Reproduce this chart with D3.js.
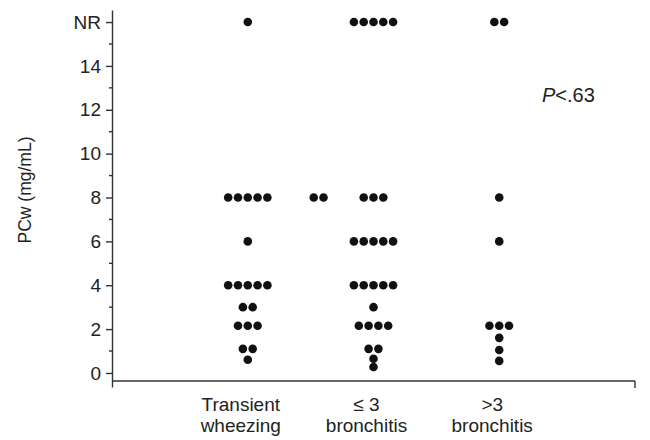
<!DOCTYPE html>
<html>
<head>
<meta charset="utf-8">
<script src="https://cdn.jsdelivr.net/npm/d3@7"></script>
<style>
  body { margin: 0; background: #fff; }
  svg { display: block; font-family: "Liberation Sans", Arial, Helvetica, sans-serif; }
</style>
</head>
<body>
<svg id="chart" width="650" height="440"></svg>
<script>
// ---- data ----
const categories = ["Transient wheezing", "≤ 3 bronchitis", ">3 bronchitis"];
const categoryLines = [["Transient", "wheezing"], ["≤ 3", "bronchitis"], [">3", "bronchitis"]];
const NR = 16; // "no response" plotted at top
const transientValues = [NR, 8, 8, 8, 8, 8, 6, 4, 4, 4, 4, 4, 3, 3, 2.15, 2.15, 2.15, 1.1, 1.1, 0.6];
const lowBronchValues = [NR, NR, NR, NR, NR, 8, 8, 8, 6, 6, 6, 6, 6, 4, 4, 4, 4, 4, 3, 2.15, 2.15, 2.15, 2.15, 1.1, 1.1, 0.65, 0.27];
const lowBronchShifted = [8, 8]; // pair drawn left of the column in the original
const highBronchValues = [NR, NR, 8, 6, 2.15, 2.15, 2.15, 1.6, 1.05, 0.55];
const groupValues = [transientValues, lowBronchValues, highBronchValues];
const yTickValues = [0, 2, 4, 6, 8, 10, 12, 14, NR];
const yMinorTicks = [1, 3, 5, 7, 9, 11, 13, 15];
const pText = "P<.63";

// ---- layout ----
const svg = d3.select("#chart");
const left = 112, right = 635, axisY = 381;
const y = d3.scaleLinear().domain([-0.64, 16.55]).range([387, 10]);
const x = d3.scalePoint().domain(categories).range([left, right]).padding(1.08);
const dotStep = 9.8, dotR = 4.3;

// y axis
const yAxis = d3.axisLeft(y).tickValues(yTickValues).tickSize(6).tickSizeOuter(0)
  .tickFormat(d => d === NR ? "NR" : d);
const gy = svg.append("g").attr("transform", `translate(${left},0)`).call(yAxis);
gy.attr("font-family", null);
gy.select(".domain").attr("stroke", "#333").attr("stroke-width", 1.4);
gy.selectAll(".tick line").attr("stroke", "#333").attr("stroke-width", 1.4);
gy.selectAll(".tick text").attr("font-size", 19).attr("fill", "#222").attr("x", -11);
// minor ticks
gy.selectAll(".minor").data(yMinorTicks).enter().append("line")
  .attr("class", "minor").attr("x1", -3).attr("x2", 0)
  .attr("y1", d => y(d)).attr("y2", d => y(d))
  .attr("stroke", "#333").attr("stroke-width", 1.4);

// x axis line
svg.append("line").attr("x1", left).attr("x2", right).attr("y1", axisY).attr("y2", axisY)
  .attr("stroke", "#333").attr("stroke-width", 1.4);
svg.append("line").attr("x1", right).attr("x2", right).attr("y1", axisY).attr("y2", axisY + 7)
  .attr("stroke", "#333").attr("stroke-width", 1.4);

// category labels (one text per line)
categories.forEach((c, i) => {
  categoryLines[i].forEach((ln, j) => {
    svg.append("text").attr("text-anchor", "middle").attr("font-size", 19).attr("fill", "#222")
      .attr("x", x(c) - 7).attr("y", 411 + j * 21.4).text(ln);
  });
});

// y label
svg.append("text").attr("transform", "translate(31,190) rotate(-90)")
  .attr("text-anchor", "middle").attr("font-size", 17.5).attr("fill", "#222")
  .text("PCw (mg/mL)");

// P value
const pt = svg.append("text").attr("x", 542).attr("y", 102).attr("font-size", 20).attr("fill", "#222");
pt.append("tspan").attr("font-style", "italic").text(pText.slice(0, 1));
pt.append("tspan").text(pText.slice(1));

// dots
function layout(values, cx, shift) {
  const rows = d3.rollups(values, v => v.length, d => d);
  const pts = [];
  rows.forEach(([val, n]) => {
    for (let k = 0; k < n; k++) {
      pts.push({ value: val, cx: cx + (shift + k - (n - 1) / 2) * dotStep });
    }
  });
  return pts;
}
let allPts = [];
categories.forEach((c, i) => { allPts = allPts.concat(layout(groupValues[i], x(c), 0)); });
allPts = allPts.concat(layout(lowBronchShifted, x(categories[1]), -5.6));

svg.append("g").selectAll("circle").data(allPts).enter().append("circle")
  .attr("cx", d => d.cx).attr("cy", d => y(d.value)).attr("r", dotR).attr("fill", "#111");
</script>
</body>
</html>
